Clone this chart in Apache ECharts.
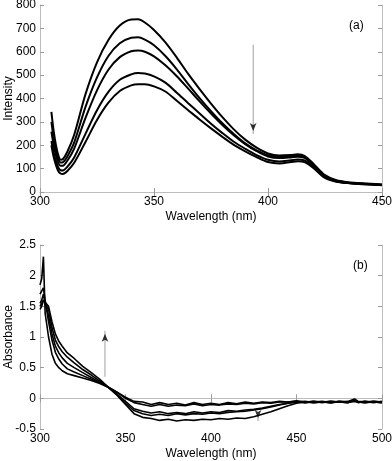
<!DOCTYPE html>
<html><head><meta charset="utf-8">
<script src="https://cdn.jsdelivr.net/npm/echarts@6/dist/echarts.min.js"></script>
<style>html,body{margin:0;padding:0;background:#fff}#c{width:392px;height:461px}</style>
</head><body><div id="c"></div>
<script>
// ---- Panel (a): fluorescence intensity ----
const topX = [305,306,307,308,309,310,312,315,320,325,330,335,340,343,346,350,355,360,365,370,375,380,385,390,395,400,405,410,413,416,420,425,430,435,440,445,450];
const int1 = [343,260,200,158,138,140,172,245,420,555,650,712,738,739,725,693,640,575,505,440,378,320,268,224,190,165,156,158,161,155,120,72,50,42,38,35,32];
const int2 = [300,230,178,142,126,127,152,212,365,490,582,636,660,662,652,628,582,525,462,402,346,294,248,208,178,157,150,153,156,150,116,69,48,41,37,34,31];
const int3 = [258,200,158,125,112,112,134,186,318,435,523,577,602,605,600,580,542,495,442,388,336,287,243,205,175,152,145,148,151,146,113,67,47,40,36,33,30];
const int4 = [218,168,132,105,93,92,108,148,250,350,428,480,503,509,507,495,468,425,380,336,292,252,215,185,158,138,131,136,139,135,106,63,45,39,35,32,30];
const int5 = [200,150,115,90,79,77,90,125,215,308,382,432,456,461,461,452,430,390,350,310,272,236,202,174,149,128,122,128,132,128,102,60,44,38,34,32,29];
const topXTicks = [300,350,400,450];
const topYTicks = [0,100,200,300,400,500,600,700,800];

// ---- Panel (b): absorbance ----
const botX = [300,301,302,303,305,307,309,311,313,316,320,325,330,335,340,345,350,355,360,365,370,375,380,385,390,395,400,405,410,415,420,425,430,435,440,445,450,455,460,465,470,475,480,484,486,490,495,500];
const absA = [1.85,1.95,2.31,1.39,1.0,0.72,0.57,0.5,0.45,0.4,0.37,0.33,0.29,0.24,0.18,0.1,0.02,-0.05,-0.06,-0.1,-0.07,-0.1,-0.08,-0.11,-0.07,-0.1,-0.08,-0.1,-0.07,-0.09,-0.06,-0.08,-0.06,-0.07,-0.05,-0.06,-0.04,-0.06,-0.05,-0.07,-0.05,-0.06,-0.05,-0.01,-0.05,-0.06,-0.05,-0.06];
const absB = [1.7,1.75,1.8,1.6,1.25,0.95,0.75,0.64,0.56,0.48,0.43,0.37,0.31,0.25,0.18,0.1,0.0,-0.07,-0.1,-0.13,-0.1,-0.13,-0.11,-0.12,-0.09,-0.12,-0.1,-0.11,-0.09,-0.1,-0.08,-0.09,-0.07,-0.08,-0.06,-0.06,-0.05,-0.07,-0.06,-0.05,-0.07,-0.05,-0.06,-0.03,-0.06,-0.05,-0.07,-0.05];
const absC = [1.55,1.6,1.7,1.55,1.35,1.05,0.85,0.74,0.66,0.57,0.5,0.42,0.34,0.26,0.18,0.07,-0.05,-0.17,-0.21,-0.24,-0.22,-0.25,-0.23,-0.25,-0.22,-0.24,-0.22,-0.23,-0.2,-0.21,-0.19,-0.18,-0.16,-0.13,-0.1,-0.08,-0.06,-0.05,-0.07,-0.06,-0.05,-0.06,-0.07,-0.04,-0.07,-0.05,-0.06,-0.07];
const absD = [1.5,1.55,1.6,1.55,1.45,1.15,0.95,0.84,0.76,0.67,0.58,0.47,0.38,0.28,0.18,0.06,-0.08,-0.2,-0.25,-0.28,-0.26,-0.28,-0.25,-0.27,-0.25,-0.26,-0.24,-0.25,-0.23,-0.22,-0.21,-0.19,-0.17,-0.14,-0.11,-0.08,-0.06,-0.07,-0.05,-0.06,-0.07,-0.05,-0.06,-0.05,-0.06,-0.07,-0.05,-0.06];
const absE = [1.45,1.5,1.6,1.6,1.5,1.25,1.05,0.93,0.85,0.74,0.65,0.52,0.42,0.31,0.18,0.05,-0.1,-0.25,-0.31,-0.33,-0.36,-0.34,-0.37,-0.35,-0.36,-0.34,-0.35,-0.33,-0.34,-0.32,-0.33,-0.3,-0.26,-0.22,-0.17,-0.12,-0.08,-0.06,-0.07,-0.06,-0.07,-0.06,-0.07,-0.03,-0.06,-0.07,-0.06,-0.07];

// annotation arrows (data coordinates)
const arrowA = [[393.5, 630], [393.5, 248]];
const arrowBUp = [[338, 0.35], [338, 1.1]];
const arrowBDown = [[427.5, -0.3], [427.5, -0.37]];

const FONT = 'Liberation Sans';
const frame = '#bdbdbd';
function xAx(grid, min, max, interval, main) {
  return {
    type: 'value', gridIndex: grid, min, max, interval,
    position: main ? 'bottom' : 'top',
    name: main ? 'Wavelength (nm)' : '', nameLocation: 'middle', nameGap: 19, nameMoveOverlap: false,
    nameTextStyle: {fontFamily: FONT, fontSize: 12, color: '#000'},
    axisLine: {show: true, lineStyle: {color: frame, width: 1}},
    axisTick: {show: true, inside: true, length: 4, lineStyle: {color: '#9a9a9a'}},
    axisLabel: {show: main, margin: 4, fontFamily: FONT, fontSize: 12, color: '#000', showMaxLabel: true},
    splitLine: {show: false}
  };
}
function yAx(grid, min, max, interval, main, name) {
  return {
    type: 'value', gridIndex: grid, min, max, interval,
    position: main ? 'left' : 'right',
    name: main ? name : '', nameLocation: 'middle', nameGap: 25, nameMoveOverlap: false,
    nameTextStyle: {fontFamily: FONT, fontSize: 12, color: '#000'},
    axisLine: {show: true, lineStyle: {color: frame, width: 1}},
    axisTick: {show: true, inside: true, length: 4, lineStyle: {color: '#9a9a9a'}},
    axisLabel: {show: main, margin: 4, fontFamily: FONT, fontSize: 12, color: '#000'},
    splitLine: {show: false}
  };
}
function curve(xs, ys, xi, yi, w, smooth) {
  return {
    type: 'line', xAxisIndex: xi, yAxisIndex: yi, data: xs.map((x, i) => [x, ys[i]]),
    symbol: 'none', smooth: smooth, lineStyle: {color: '#000', width: w}, silent: true, z: 3
  };
}
function shaft(pts, xi, yi) {
  return {type: 'line', xAxisIndex: xi, yAxisIndex: yi, data: pts, symbol: 'none',
    lineStyle: {color: '#a0a0a0', width: 1}, silent: true, z: 2};
}
function head(pt, xi, yi, up) {
  return {type: 'scatter', xAxisIndex: xi, yAxisIndex: yi, data: [pt], symbol: 'arrow',
    symbolSize: [5, 8], symbolRotate: up ? 0 : 180, symbolOffset: [0, up ? 3 : -3],
    itemStyle: {color: '#000'}, silent: true, z: 4};
}

const chart = echarts.init(document.getElementById('c'), null, {renderer: 'canvas'});
chart.setOption({
  animation: false,
  grid: [
    {left: 40, right: 10, top: 5, height: 187, show: false, containLabel: false, outerBoundsMode: 'none'},
    {left: 40, right: 10, top: 245, height: 184, show: false, containLabel: false, outerBoundsMode: 'none'}
  ],
  xAxis: [
    xAx(0, topXTicks[0], topXTicks[topXTicks.length - 1], 50, true),
    xAx(0, topXTicks[0], topXTicks[topXTicks.length - 1], 50, false),
    xAx(1, 300, 500, 50, true),
    xAx(1, 300, 500, 50, false)
  ],
  yAxis: [
    yAx(0, topYTicks[0], topYTicks[topYTicks.length - 1], 100, true, 'Intensity'),
    yAx(0, topYTicks[0], topYTicks[topYTicks.length - 1], 100, false, ''),
    yAx(1, -0.5, 2.5, 0.5, true, 'Absorbance'),
    yAx(1, -0.5, 2.5, 0.5, false, '')
  ],
  graphic: [
    {type: 'text', left: 349, top: 20, style: {text: '(a)', font: '12px Liberation Sans', fill: '#000'}},
    {type: 'text', left: 353, top: 260, style: {text: '(b)', font: '12px Liberation Sans', fill: '#000'}}
  ],
  series: [
    curve(topX, int1, 0, 0, 2, 0.3),
    curve(topX, int2, 0, 0, 2, 0.3),
    curve(topX, int3, 0, 0, 2, 0.3),
    curve(topX, int4, 0, 0, 2, 0.3),
    curve(topX, int5, 0, 0, 2, 0.3),
    shaft(arrowA, 0, 0), head(arrowA[1], 0, 0, false),
    curve(botX, absA, 2, 2, 1.6, false),
    curve(botX, absB, 2, 2, 1.6, false),
    curve(botX, absC, 2, 2, 1.6, false),
    curve(botX, absD, 2, 2, 1.6, false),
    curve(botX, absE, 2, 2, 1.6, false),
    shaft(arrowBUp, 2, 2), head(arrowBUp[1], 2, 2, true),
    shaft(arrowBDown, 2, 2), head(arrowBDown[1], 2, 2, false)
  ]
});
</script></body></html>
